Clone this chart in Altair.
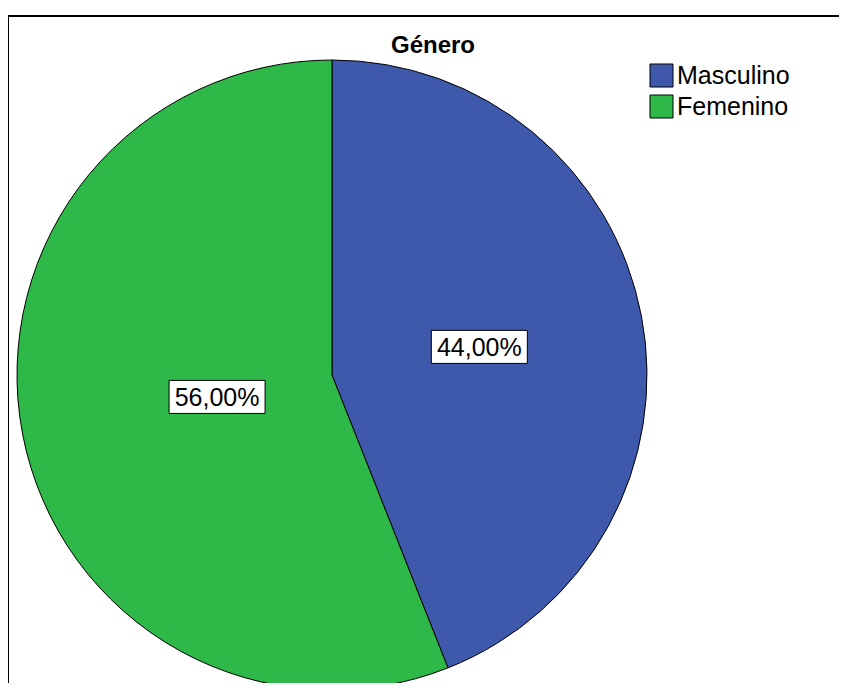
import altair as alt
import pandas as pd

categories = ["Masculino", "Femenino"]
percentages = [44.0, 56.0]
labels = ["44,00%", "56,00%"]
colors = ["#3E58AC", "#2EB848"]
title_text = "Género"

df = pd.DataFrame({
    "cat": categories,
    "pct": percentages,
    "label": labels,
    "idx": list(range(len(categories))),
})

W, H = 831, 675
CX, CY, R = 324, 367, 315
FONT = "Liberation Sans"

color = alt.Color(
    "cat:N",
    scale=alt.Scale(domain=categories, range=colors),
    legend=alt.Legend(
        title=None,
        orient="none",
        legendX=641,
        legendY=55,
        padding=0,
        symbolType="square",
        symbolSize=529,
        symbolStrokeColor="black",
        symbolStrokeWidth=1,
        symbolOpacity=1,
        labelFont=FONT,
        labelFontSize=25,
        labelColor="black",
        labelOffset=3,
        rowPadding=4,
        labelLimit=300,
    ),
)

base = alt.Chart(df)

pie = base.mark_arc(outerRadius=R, stroke="black", strokeWidth=1, opacity=1).encode(
    theta=alt.Theta("pct:Q", stack=True),
    color=color,
    order=alt.Order("idx:Q"),
    x=alt.value(CX),
    y=alt.value(CY),
)

lab = base.transform_window(
    cum="sum(pct)", sort=[alt.SortField("idx")], frame=[None, 0]
).transform_joinaggregate(
    total="sum(pct)"
).transform_calculate(
    ang="2*PI*(datum.cum - datum.pct/2)/datum.total",
    r="datum.cat == 'Masculino' ? 150 : 117",
).transform_calculate(
    px=f"{CX} + datum.r*sin(datum.ang)",
    py=f"{CY} - datum.r*cos(datum.ang)",
)

xpos = alt.X("px:Q", scale=None, axis=None)
ypos = alt.Y("py:Q", scale=None, axis=None)

box = lab.mark_point(
    shape="M-1,-0.344L1,-0.344L1,0.344L-1,0.344Z",
    size=9216,
    filled=True,
    fill="white",
    stroke="black",
    strokeWidth=1,
    opacity=1,
    fillOpacity=1,
    strokeOpacity=1,
).encode(x=xpos, y=ypos)

txt = lab.mark_text(
    font=FONT, fontSize=25, color="black", align="center", baseline="middle", dy=1
).encode(x=xpos, y=ypos, text="label:N")

one = alt.Data(values=[{"t": title_text}])

title = alt.Chart(one).mark_text(
    font=FONT, fontSize=24, fontWeight="bold", color="black", align="center", baseline="alphabetic"
).encode(text="t:N", x=alt.value(425), y=alt.value(45))

frame_top = alt.Chart(one).mark_rule(color="black", strokeWidth=2).encode(
    x=alt.value(0), x2=alt.value(W), y=alt.value(8)
)
frame_left = alt.Chart(one).mark_rule(color="black", strokeWidth=2).encode(
    x=alt.value(0), y=alt.value(8), y2=alt.value(H)
)

chart = alt.layer(frame_top, frame_left, pie, box, txt, title).properties(
    width=W, height=H, autosize="none", padding=0
).configure_view(strokeWidth=0).resolve_scale(x="independent", y="independent")

chart.save("out.html", embed_options={"renderer": "svg", "actions": False})
